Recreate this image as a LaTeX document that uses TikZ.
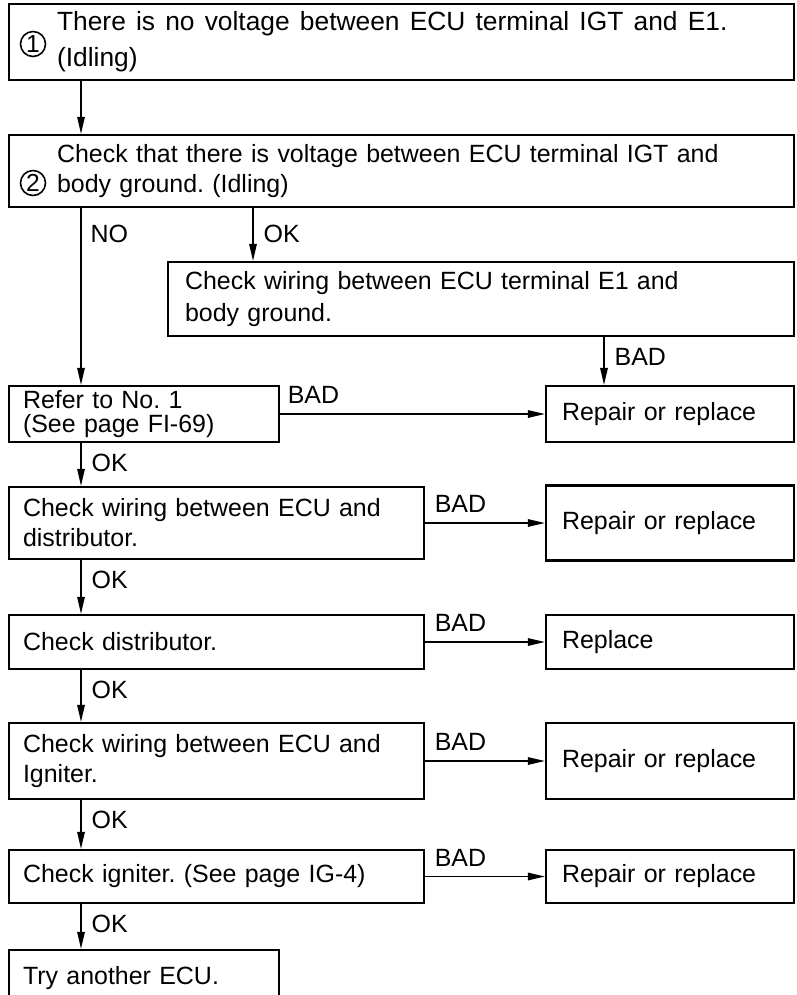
\documentclass[tikz,border=0pt]{standalone}
\usepackage{fontspec}
\setmainfont{Liberation Sans}
\usetikzlibrary{arrows.meta}
\frenchspacing

\begin{document}
\begin{tikzpicture}[x=0.02cm,y=-0.02cm,
  box/.style={draw,line width=1.3pt,align=left,inner xsep=0pt,inner ysep=0pt,font=\fontsize{14.2}{17}\selectfont},
  num/.style={draw,circle,line width=0.9pt,minimum size=0.5cm,inner sep=0pt,font=\fontsize{14}{14}\selectfont},
  arr/.style={-{Triangle[length=0.34cm,width=0.15cm]},line width=0.8pt},
  vlab/.style={pos=0,anchor=west,inner sep=0pt,xshift=0.2cm,yshift=-0.4cm,font=\fontsize{14.2}{17}\selectfont},
  hlab/.style={pos=0,anchor=west,inner sep=0pt,xshift=0.18cm,yshift=0.38cm,font=\fontsize{14.2}{17}\selectfont}]

\useasboundingbox (0,0) rectangle (797,995);

% first two checks, full width
\node[box,minimum width=15.7cm,minimum height=1.52cm,text width=13.78cm,font=\fontsize{15}{20.4}\selectfont] (one) at (401.5,42) {\spaceskip=5.8pt plus 1pt\relax There is no voltage between ECU terminal IGT and E1.\\(Idling)};
\node[num] (n1) at (33,44) {1};
\node[box,minimum width=15.7cm,minimum height=1.44cm,text width=13.78cm] (two) at (401.5,171) {Check that there is voltage between ECU terminal IGT and\\body ground. (Idling)};
\node[num] (n2) at (33,183) {2};

\node[box,minimum width=12.52cm,minimum height=1.48cm,text width=11.84cm,font=\fontsize{14.2}{18}\selectfont] (ground) at (481,299) {Check wiring between ECU terminal E1 and\\body ground.};

% left column
\node[box,minimum width=5.4cm,minimum height=1.12cm,text width=4.84cm,font=\fontsize{14.2}{13.4}\selectfont] (refer) at (144,414) {Refer to No. 1\\(See page FI-69)};
\node[box,minimum width=8.3cm,minimum height=1.44cm,text width=7.74cm] (wiredist) at (216.5,523) {Check wiring between ECU and\\distributor.};
\node[box,minimum width=8.3cm,minimum height=1.08cm,text width=7.74cm] (dist) at (216.5,642) {Check distributor.};
\node[box,minimum width=8.3cm,minimum height=1.52cm,text width=7.74cm,font=\fontsize{14.2}{17.5}\selectfont] (wireign) at (216.5,761) {Check wiring between ECU and\\Igniter.};
\node[box,minimum width=8.3cm,minimum height=1.06cm,text width=7.74cm] (ign) at (216.5,876.5) {Check igniter. (See page IG-4)};
\node[box,minimum width=5.4cm,minimum height=1.12cm,text width=4.84cm] (ecu) at (144,978) {Try another ECU.};

% right column
\node[box,minimum width=4.96cm,minimum height=1.12cm,text width=4.32cm] (rep1) at (670,414) {Repair or replace};
\node[box,minimum width=4.96cm,minimum height=1.5cm,text width=4.32cm] (rep2) at (670,523) {Repair or replace};
\node[box,minimum width=4.96cm,minimum height=1.08cm,text width=4.32cm] (replace) at (670,642) {Replace};
\node[box,minimum width=4.96cm,minimum height=1.52cm,text width=4.32cm] (rep3) at (670,761) {Repair or replace};
\node[box,minimum width=4.96cm,minimum height=1.06cm,text width=4.32cm] (rep4) at (670,876.5) {Repair or replace};

\coordinate (trunk) at (81,0);
\coordinate (okx) at (253,0);
\coordinate (badx) at (604,0);

% connectors
\draw[arr] (trunk |- one.south) -- (trunk |- two.north);
\draw[arr] (trunk |- two.south) -- node[vlab,xshift=-0.02cm,yshift=-0.12cm] {NO} (trunk |- refer.north);
\draw[arr] (okx |- two.south) -- node[vlab,yshift=-0.12cm] {OK} (okx |- ground.north);
\draw[arr] (badx |- ground.south) -- node[vlab] {BAD} (badx |- rep1.north);
\draw[arr] (refer.east) -- node[hlab,xshift=-0.04cm] {BAD} (rep1.west);
\draw[arr] (trunk |- refer.south) -- node[vlab] {OK} (trunk |- wiredist.north);
\draw[arr] (wiredist.east) -- node[hlab] {BAD} (rep2.west);
\draw[arr] (trunk |- wiredist.south) -- node[vlab] {OK} (trunk |- dist.north);
\draw[arr] (dist.east) -- node[hlab] {BAD} (replace.west);
\draw[arr] (trunk |- dist.south) -- node[vlab] {OK} (trunk |- wireign.north);
\draw[arr] (wireign.east) -- node[hlab] {BAD} (rep3.west);
\draw[arr] (trunk |- wireign.south) -- node[vlab] {OK} (trunk |- ign.north);
\draw[arr] (ign.east) -- node[hlab] {BAD} (rep4.west);
\draw[arr] (trunk |- ign.south) -- node[vlab] {OK} (trunk |- ecu.north);

\end{tikzpicture}
\end{document}
